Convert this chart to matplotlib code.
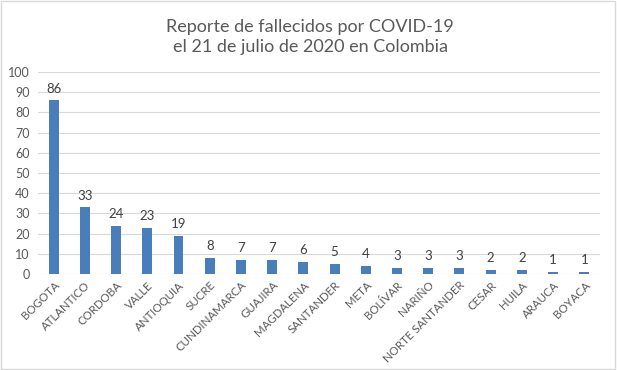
import matplotlib
matplotlib.use('Agg')
import matplotlib.pyplot as plt
from matplotlib.patches import Rectangle

plt.rcParams['font.family'] = ['Lato', 'DejaVu Sans']

# datos del reporte
departamentos = ['BOGOTA', 'ATLANTICO', 'CORDOBA', 'VALLE', 'ANTIOQUIA', 'SUCRE',
                 'CUNDINAMARCA', 'GUAJIRA', 'MAGDALENA', 'SANTANDER', 'META', 'BOLÍVAR',
                 'NARIÑO', 'NORTE SANTANDER', 'CESAR', 'HUILA', 'ARAUCA', 'BOYACA']
fallecidos = [86, 33, 24, 23, 19, 8, 7, 7, 6, 5, 4, 3, 3, 3, 2, 2, 1, 1]
y_ticks = list(range(0, 101, 10))

fig = plt.figure(figsize=(6.17, 3.70), dpi=100)
ax = fig.add_axes([0.0616, 0.2595, 0.9108, 0.5459])

x = range(len(departamentos))
bars = ax.bar(x, fallecidos, width=0.32, color='#4A7EBB', zorder=3)

for i, v in enumerate(fallecidos):
    ax.annotate(str(v), (i, v), xytext=(0, 4), textcoords='offset points',
                ha='center', va='bottom', fontsize=9.5, color='#404040')

ax.set_xlim(-0.5, len(departamentos) - 0.5)
ax.set_ylim(0, 100)
ax.set_yticks(y_ticks)
ax.set_xticks(list(x))
ax.set_xticklabels(departamentos, rotation=45, ha='right', rotation_mode='anchor')
ax.tick_params(axis='x', length=0, labelsize=8.3, labelcolor='#595959', pad=4)
ax.tick_params(axis='y', length=0, labelsize=9, labelcolor='#595959', pad=6)
ax.grid(axis='y', color='#d9d9d9', linewidth=0.8, zorder=0)
for s in ax.spines.values():
    s.set_visible(False)

fig.text(0.503, 0.9, 'Reporte de fallecidos por COVID-19\nel 21 de julio de 2020 en Colombia',
         ha='center', va='center', fontsize=13, color='#595959', linespacing=1.35)

fig.patches.append(Rectangle((0.002, 0.003), 0.995, 0.994, transform=fig.transFigure,
                             fill=False, edgecolor='#d9d9d9', linewidth=1))

fig.savefig('out.png', dpi=100)
